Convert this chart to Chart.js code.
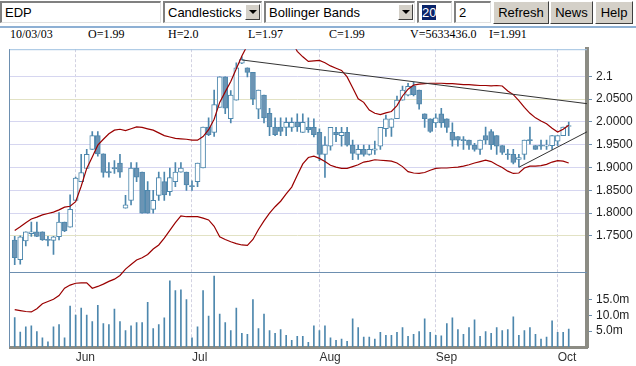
<!DOCTYPE html>
<html>
<head>
<meta charset="utf-8">
<script src="https://cdn.jsdelivr.net/npm/chart.js@4.4.0/dist/chart.umd.min.js"></script>
<style>
  html, body { margin: 0; padding: 0; background: #fff; }
  #page { position: relative; width: 636px; height: 366px; overflow: hidden; background: #fff;
          font-family: 'Liberation Sans', Arial, sans-serif; }
  .fld { position: absolute; top: 1px; height: 22px; background: #fff; box-sizing: border-box;
         border-top: 2px solid #808080; border-left: 2px solid #808080;
         border-bottom: 1px solid #e0e0e0; border-right: 1px solid #e0e0e0;
         font-size: 13px; line-height: 19px; padding-left: 3px; color: #000; white-space: nowrap; }
  .arr { position: absolute; right: 1px; top: 1px; width: 15px; height: 16px; background: #d4d0c8;
         border: 1px solid; border-color: #fff #404040 #404040 #fff; box-sizing: border-box; }
  .arr:after { content: ''; position: absolute; left: 3px; top: 5px; border-left: 4px solid transparent;
               border-right: 4px solid transparent; border-top: 4px solid #000; }
  .btn { position: absolute; top: 1px; height: 23px; background: #d4d0c8; box-sizing: border-box;
         border: 1px solid; border-color: #fff #404040 #404040 #fff; font-size: 13px; line-height: 21px;
         text-align: center; color: #000; }
  .sel { background: #0a246a; color: #fff; }
  #rule { position: absolute; left: 0; top: 26px; width: 636px; height: 2px; background: #8eb0d4; }
  .info { position: absolute; top: 28px; font-size: 12px; line-height: 12px; color: #000;
          font-family: 'Liberation Serif', 'Times New Roman', serif; }
  #wrap { position: absolute; left: 0; top: 38px; width: 636px; height: 328px; }
</style>
</head>
<body>
<div id="page">
  <div class="fld" style="left:0;width:161px">EDP</div>
  <div class="fld" style="left:163px;width:99px">Candlesticks<span class="arr"></span></div>
  <div class="fld" style="left:264px;width:151px">Bollinger Bands<span class="arr"></span></div>
  <div class="fld" style="left:417px;width:35px"><span class="sel">20</span></div>
  <div class="fld" style="left:454px;width:37px">2</div>
  <div class="btn" style="left:493px;width:56px">Refresh</div>
  <div class="btn" style="left:550px;width:43px">News</div>
  <div class="btn" style="left:595px;width:38px">Help</div>
  <div id="rule"></div>
  <div class="info" style="left:10px">10/03/03</div>
  <div class="info" style="left:88px">O=1.99</div>
  <div class="info" style="left:168px">H=2.0</div>
  <div class="info" style="left:248px">L=1.97</div>
  <div class="info" style="left:329px">C=1.99</div>
  <div class="info" style="left:410px">V=5633436.0</div>
  <div class="info" style="left:489px">I=1.991</div>
  <div id="wrap"><canvas id="stock" width="636" height="328"></canvas></div>
</div>
<script>
// EDP daily prices, 16 May 2003 .. 3 Oct 2003 (one entry per trading day)
const opens = [1.741,1.698,1.739,1.755,1.759,1.759,1.742,1.740,1.748,1.780,
  1.769,1.828,1.869,1.898,1.940,1.970,1.930,1.891,1.900,1.910,
  1.811,1.828,1.899,1.890,1.850,1.808,1.839,1.869,1.847,1.869,
  1.890,1.890,1.860,1.869,1.899,1.989,1.977,2.032,2.099,2.007,
  2.048,2.129,2.119,2.109,2.028,2.059,2.019,1.989,1.989,1.988,
  1.988,1.999,1.977,1.989,1.988,1.977,1.929,1.947,1.977,1.970,
  1.977,1.949,1.929,1.940,1.929,1.938,1.947,1.985,1.988,2.007,
  2.048,2.059,2.078,2.070,2.018,2.007,1.998,2.018,2.007,1.977,
  1.968,1.961,1.960,1.949,1.940,1.970,1.979,1.970,1.948,1.930,
  1.929,1.918,1.929,1.961,1.948,1.949,1.947,1.948,1.958,1.970,
  1.990];
const highs = [1.749,1.750,1.759,1.780,1.780,1.759,1.749,1.749,1.801,1.780,
  1.840,1.879,1.929,1.940,1.979,1.979,1.930,1.911,1.915,1.929,
  1.839,1.911,1.911,1.890,1.869,1.850,1.890,1.890,1.899,1.911,
  1.911,1.890,1.871,1.910,1.989,2.009,2.070,2.099,2.099,2.069,
  2.130,2.143,2.119,2.109,2.070,2.059,2.030,2.009,2.009,2.009,
  2.009,2.018,2.018,2.009,2.007,1.985,1.968,1.988,1.988,1.988,
  1.988,1.960,1.949,1.949,1.949,1.958,1.988,2.015,2.007,2.057,
  2.079,2.085,2.087,2.070,2.018,2.007,2.018,2.030,2.007,1.998,
  1.968,1.968,1.960,1.953,1.960,1.989,1.983,1.970,1.948,1.940,
  1.940,1.929,1.960,1.989,1.948,1.960,1.960,1.970,1.970,1.989,
  2.000];
const lows = [1.687,1.688,1.728,1.749,1.748,1.740,1.728,1.709,1.741,1.759,
  1.769,1.828,1.869,1.898,1.940,1.925,1.879,1.879,1.887,1.878,
  1.811,1.818,1.869,1.800,1.800,1.800,1.828,1.828,1.839,1.858,
  1.890,1.850,1.850,1.858,1.899,1.970,1.968,2.032,2.018,1.998,
  2.048,2.128,2.099,2.038,2.007,1.998,1.970,1.970,1.970,1.970,
  1.979,1.979,1.977,1.977,1.967,1.915,1.878,1.938,1.957,1.947,
  1.947,1.917,1.918,1.925,1.927,1.929,1.940,1.968,1.968,2.007,
  2.048,2.057,2.057,2.028,1.988,1.977,1.988,1.988,1.977,1.947,
  1.947,1.940,1.940,1.936,1.929,1.951,1.940,1.929,1.929,1.918,
  1.908,1.901,1.918,1.951,1.940,1.940,1.940,1.940,1.948,1.970,
  1.970];
const closes = [1.702,1.748,1.759,1.759,1.749,1.741,1.740,1.748,1.780,1.761,
  1.808,1.877,1.889,1.929,1.970,1.930,1.889,1.888,1.897,1.890,
  1.818,1.899,1.879,1.800,1.800,1.828,1.878,1.840,1.878,1.890,
  1.899,1.862,1.858,1.910,1.989,1.972,2.038,2.099,2.030,2.059,
  2.119,2.137,2.109,2.050,2.070,2.009,1.989,1.972,1.979,1.999,
  1.999,1.989,1.999,1.983,1.972,1.929,1.949,1.988,1.972,1.977,
  1.949,1.931,1.940,1.929,1.940,1.941,1.988,2.007,2.007,2.048,
  2.070,2.078,2.060,2.039,2.007,1.979,2.009,1.998,1.988,1.960,
  1.960,1.959,1.949,1.940,1.960,1.960,1.950,1.947,1.933,1.928,
  1.911,1.922,1.960,1.959,1.940,1.947,1.949,1.970,1.970,1.989,
  1.990];
// volume, millions of shares
const volumes = [9.3,4.7,6.4,6.7,4.9,2.9,1.6,6.4,7.1,2.9,
  12.9,10.1,12.3,10.1,8.0,13.2,7.4,7.1,12.0,8.0,
  5.2,6.7,7.7,7.7,14.1,5.8,7.1,9.2,20.9,17.8,
  18.1,15.0,2.9,6.4,17.8,9.8,22.4,10.4,7.7,5.2,
  12.3,4.3,4.0,15.0,5.8,10.4,5.2,4.3,5.5,3.7,
  2.1,3.4,3.4,1.5,6.7,5.2,6.7,2.9,2.1,2.5,
  1.8,8.9,6.1,3.1,3.1,2.5,4.6,3.7,3.7,4.6,
  6.1,3.4,4.0,4.9,8.9,4.6,3.7,3.5,7.4,9.2,
  5.5,4.0,6.1,8.6,3.4,4.9,4.3,6.1,5.2,5.5,
  9.5,3.7,5.2,6.1,4.0,2.5,3.1,8.3,4.6,4.6,
  5.63];
// Bollinger bands (20, 2)
const upperBand = [1.762,1.770,1.779,1.787,1.791,1.796,1.799,1.802,1.807,1.813,
  1.815,1.825,1.859,1.898,1.923,1.949,1.962,1.974,1.982,1.984,
  1.981,1.985,1.989,1.988,1.985,1.982,1.976,1.970,1.967,1.964,
  1.963,1.962,1.960,1.960,1.968,1.983,2.006,2.043,2.066,2.089,
  2.117,2.145,2.168,2.181,2.192,2.198,2.202,2.202,2.198,2.189,
  2.177,2.155,2.143,2.133,2.134,2.135,2.130,2.123,2.118,2.113,
  2.099,2.075,2.051,2.043,2.026,2.019,2.016,2.020,2.023,2.036,
  2.057,2.072,2.081,2.083,2.084,2.085,2.085,2.085,2.084,2.084,
  2.083,2.082,2.082,2.081,2.080,2.080,2.079,2.080,2.079,2.068,
  2.060,2.047,2.032,2.019,2.009,2.002,1.996,1.986,1.978,1.984,
  1.993];
const lowerBand = [1.588,1.586,1.584,1.583,1.590,1.601,1.606,1.611,1.619,1.635,
  1.642,1.646,1.647,1.647,1.635,1.639,1.644,1.650,1.655,1.663,
  1.677,1.687,1.697,1.702,1.709,1.721,1.730,1.745,1.762,1.779,
  1.794,1.792,1.792,1.792,1.789,1.785,1.771,1.748,1.742,1.737,
  1.733,1.730,1.729,1.742,1.764,1.783,1.800,1.814,1.826,1.842,
  1.857,1.883,1.908,1.922,1.925,1.920,1.913,1.905,1.901,1.898,
  1.898,1.902,1.906,1.912,1.914,1.917,1.916,1.915,1.914,1.910,
  1.902,1.891,1.888,1.887,1.889,1.894,1.898,1.899,1.899,1.900,
  1.901,1.903,1.906,1.910,1.913,1.916,1.913,1.906,1.900,1.892,
  1.887,1.888,1.899,1.903,1.903,1.904,1.907,1.912,1.915,1.914,
  1.910];
// trend lines: [day index, price]
const resistance = [[41.05, 2.136], [103.4, 2.040]];
const support = [[91.07, 1.901], [103.4, 1.979]];
// x axis
const monthStarts = [11, 32, 55, 76, 98];
const monthNames = ['Jun', 'Jul', 'Aug', 'Sep', 'Oct'];
const priceTicks = [1.75, 1.80, 1.85, 1.90, 1.95, 2.00, 2.05, 2.10];
const volumeTicks = [5, 10, 15];

const blue = '#4d87ad';
const bodies = opens.map((o, i) => ({x: i, y: [o, closes[i]]}));
const wicks = lows.map((l, i) => ({x: i, y: [l, highs[i]]}));
const vols = volumes.map((v, i) => ({x: i, y: v}));
const up = upperBand.map((v, i) => ({x: i, y: v}));
const dn = lowerBand.map((v, i) => ({x: i, y: v}));

const framePlugin = {
  id: 'frame',
  beforeDatasetsDraw(chart) {
    const {ctx, chartArea} = chart;
    const py = chart.scales.y;
    ctx.save();
    ctx.lineWidth = 1;
    ctx.strokeStyle = '#9ec0e0';
    ctx.beginPath();
    ctx.moveTo(chartArea.left - 1, chartArea.top + 0.5);
    ctx.lineTo(chartArea.right, chartArea.top + 0.5);
    ctx.stroke();
    ctx.strokeStyle = '#6d8fb0';
    ctx.beginPath();
    ctx.moveTo(chartArea.left - 0.5, chartArea.top);
    ctx.lineTo(chartArea.left - 0.5, chartArea.bottom);
    ctx.moveTo(chartArea.left - 1, Math.round(py.bottom) + 0.5);
    ctx.lineTo(chartArea.right, Math.round(py.bottom) + 0.5);
    ctx.stroke();
    ctx.restore();
  }
};

new Chart(document.getElementById('stock'), {
  type: 'bar',
  data: {
    datasets: [
      { type: 'line', data: resistance.map(p => ({x: p[0], y: p[1]})), borderColor: '#333',
        borderWidth: 1, pointRadius: 0, yAxisID: 'y' },
      { type: 'line', data: support.map(p => ({x: p[0], y: p[1]})), borderColor: '#333',
        borderWidth: 1, pointRadius: 0, yAxisID: 'y' },
      { type: 'line', data: up, borderColor: '#9a0000', borderWidth: 1.2, pointRadius: 0,
        yAxisID: 'y', clip: {left: 0, top: 0, right: 0, bottom: false} },
      { type: 'line', data: dn, borderColor: '#9a0000', borderWidth: 1.2, pointRadius: 0,
        yAxisID: 'y', clip: {left: 0, top: 0, right: 0, bottom: false} },
      { data: bodies, yAxisID: 'y', grouped: false, barThickness: 5, minBarLength: 1,
        borderWidth: 1, borderSkipped: false, borderColor: blue,
        backgroundColor: c => (c.raw && c.raw.y[1] < c.raw.y[0]) ? '#6b94b4' : '#ffffff' },
      { data: wicks, yAxisID: 'y', grouped: false, barThickness: 1, backgroundColor: blue, borderWidth: 0 },
      { data: vols, yAxisID: 'yv', grouped: false, barThickness: 1, backgroundColor: blue, borderWidth: 0 }
    ]
  },
  options: {
    responsive: false,
    animation: false,
    events: [],
    layout: { padding: { left: 10, top: 2, right: 0, bottom: 0 } },
    plugins: { legend: { display: false }, tooltip: { enabled: false } },
    scales: {
      x: {
        type: 'linear', min: -0.85, max: 103.3, offset: false,
        afterFit: s => { s.height = 19; },
        afterBuildTicks: s => { s.ticks = monthStarts.map(v => ({value: v})); },
        ticks: {
          autoSkip: false, maxRotation: 0, align: 'start', padding: 3,
          color: '#333', font: { family: 'Liberation Sans', size: 12 },
          callback: v => monthNames[monthStarts.indexOf(v)]
        },
        grid: { color: '#d2d2e2', drawTicks: false, offset: false },
        border: { color: '#8c8c84', width: 3, dash: [3, 2] }
      },
      y: {
        type: 'linear', position: 'right', stack: 'panes', stackWeight: 230,
        min: 1.670, max: 2.1597,
        afterFit: s => { s.width = 49; },
        afterBuildTicks: s => { s.ticks = priceTicks.map(v => ({value: v})); },
        ticks: {
          padding: 4, color: '#222', font: { family: 'Liberation Sans', size: 12 },
          callback: v => Math.abs(v - 2.1) < 1e-6 ? '2.1' : v.toFixed(4)
        },
        grid: {
          color: c => (c.tick && (Math.abs(c.tick.value - 2.05) < 1e-6 || Math.abs(c.tick.value - 1.75) < 1e-6)) ? '#e2e2c4' : '#d6d6f0',
          tickColor: '#6d8fb0', tickLength: 5
        },
        border: { color: '#8c8c84', width: 4 }
      },
      yv: {
        type: 'linear', position: 'right', stack: 'panes', stackWeight: 77,
        min: 0, max: 23.6,
        afterFit: s => { s.width = 49; },
        afterBuildTicks: s => { s.ticks = volumeTicks.map(v => ({value: v})); },
        ticks: {
          padding: 4, color: '#222', font: { family: 'Liberation Sans', size: 12 },
          callback: v => v.toFixed(1) + 'm'
        },
        grid: { drawOnChartArea: false, tickColor: '#6d8fb0', tickLength: 5 },
        border: { color: '#8c8c84', width: 4 }
      }
    }
  },
  plugins: [framePlugin]
});
</script>
</body>
</html>
